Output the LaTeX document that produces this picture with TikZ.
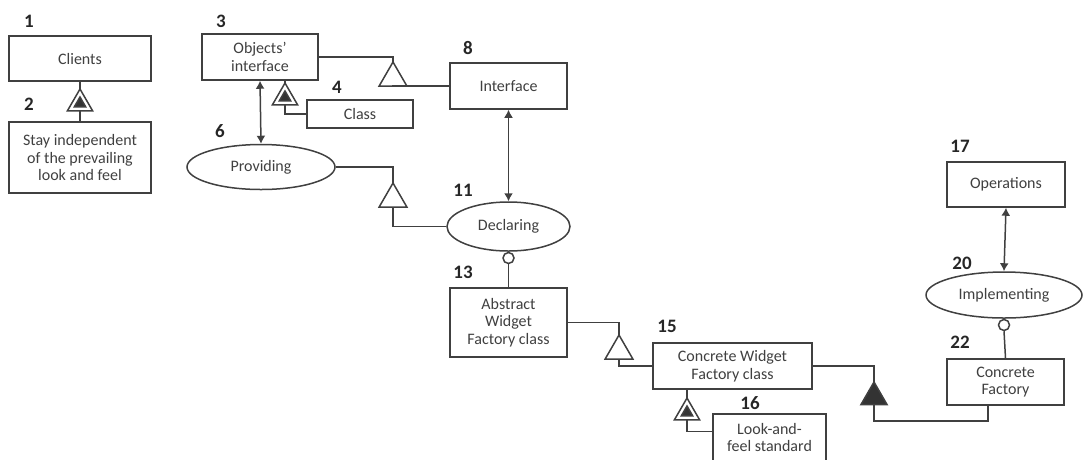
\documentclass[tikz,border=0pt]{standalone}
\usepackage{fontspec}
\setmainfont{Carlito}
\usetikzlibrary{positioning,shapes.geometric,arrows.meta}
\tikzset{box/.style={draw,rectangle,fill=white,align=center,inner sep=2pt,font=\fontsize{16}{17.5}\selectfont}}
\tikzset{proc/.style={draw,ellipse,fill=white,inner sep=1pt,font=\fontsize{16}{17.5}\selectfont}}
\tikzset{num/.style={inner sep=0pt,black!85,font=\fontsize{19}{20}\selectfont\bfseries}}
\tikzset{gen/.style={draw,regular polygon,regular polygon sides=3,minimum size=32pt,inner sep=0pt,outer sep=0pt,fill=white,anchor=north}}
\tikzset{exh/.style={gen,minimum size=29pt}}
\tikzset{exhin/.style={draw,regular polygon,regular polygon sides=3,minimum size=13pt,inner sep=0pt,outer sep=0pt,fill=black!80}}
\tikzset{agg/.style={gen,minimum size=30pt,fill=black!80}}
\tikzset{agent/.style={draw,circle,minimum size=11pt,inner sep=0pt,fill=white,anchor=north}}

\begin{document}
\begin{tikzpicture}[x=1pt,y=-1pt,>={Latex[length=8pt,width=9pt]},line width=1.5pt,black!75]
      \useasboundingbox (0,0) rectangle (1083,459);
      % things and processes
      \node[box,minimum width=142pt,minimum height=45pt] (clients) at (80,58.5) {Clients};
      \node[box,minimum width=142pt,minimum height=71pt] (stay) at (80,157.5) {Stay independent\\of the prevailing\\look and feel};
      \node[box,minimum width=116pt,minimum height=46pt] (obj) at (260,57) {Objects'\\interface};
      \node[box,minimum width=106pt,minimum height=28pt] (class) at (360,114) {Class};
      \node[box,minimum width=117pt,minimum height=46pt] (iface) at (508.5,86) {Interface};
      \node[proc,minimum width=148pt,minimum height=45pt] (prov) at (261,167) {Providing};
      \node[proc,minimum width=123pt,minimum height=49pt] (decl) at (508.5,226.5) {Declaring};
      \node[box,minimum width=117pt,minimum height=69pt] (abs) at (508.5,322.5) {Abstract\\Widget\\Factory class};
      \node[box,minimum width=159pt,minimum height=46pt] (cw) at (732.5,366) {Concrete Widget\\Factory class};
      \node[box,minimum width=113pt,minimum height=47pt] (look) at (769.5,437.5) {Look-and-\\feel standard};
      \node[box,minimum width=118pt,minimum height=45pt] (ops) at (1006,184.5) {Operations};
      \node[proc,minimum width=156pt,minimum height=46pt] (impl) at (1004,295) {Implementing};
      \node[box,minimum width=117pt,minimum height=46pt] (cf) at (1005.5,382) {Concrete\\Factory};
      % numbers
      \node[num] (n1) at (29,21) {1};
      \node[num] (n2) at (29,104) {2};
      \node[num] (n3) at (221,21) {3};
      \node[num] (n4) at (337,87) {4};
      \node[num] (n6) at (220,131) {6};
      \node[num] (n8) at (468,48) {8};
      \node[num] (n11) at (463,190) {11};
      \node[num] (n13) at (463,272) {13};
      \node[num] (n15) at (667,326) {15};
      \node[num] (n16) at (750,403) {16};
      \node[num] (n17) at (960,146) {17};
      \node[num] (n20) at (962,263) {20};
      \node[num] (n22) at (960,342) {22};
      % link symbols
      \node[exh] (x1) at (80,89) {};
      \node[exhin] (x1i) at (x1.center) {};
      \node[exh] (x2) at (285,83) {};
      \node[exhin] (x2i) at (x2.center) {};
      \node[exh] (x3) at (687,398) {};
      \node[exhin] (x3i) at (x3.center) {};
      \node[gen] (g1) at (393,62) {};
      \node[gen] (g2) at (393,183) {};
      \node[gen] (g3) at (619,335) {};
      \node[agg] (ag) at (874,382) {};
      \node[agent] (c1) at (decl.south) {};
      \node[agent] (c2) at (impl.south) {};
      \coordinate (j) at (988,421);
      % links
      \draw (clients.south) -- (x1.north);
      \draw (x1.south) -- (stay.north);
      \draw (x2.north |- obj.south) -- (x2.north);
      \draw (x2.south) |- (class.west);
      \draw (obj.east) -| (g1.north);
      \draw (g1.south) |- (iface.west);
      \draw[<->] (obj.south) -- (prov.north);
      \draw (prov.east) -| (g2.north);
      \draw (g2.south) |- (decl.west);
      \draw[<->] (iface.south) -- (decl.north);
      \draw (c1.south) -- (abs.north);
      \draw (abs.east) -| (g3.north);
      \draw (g3.south) |- (cw.west);
      \draw (x3.north |- cw.south) -- (x3.north);
      \draw (x3.south) |- ([yshift=6pt]look.west);
      \draw (cw.east) -| (ag.north);
      \draw (ag.south) |- (j) -- (j |- cf.south);
      \draw[<->] (ops.south) -- (impl.north);
      \draw (c2.south) -- (cf.north);
    \end{tikzpicture}
\end{document}
